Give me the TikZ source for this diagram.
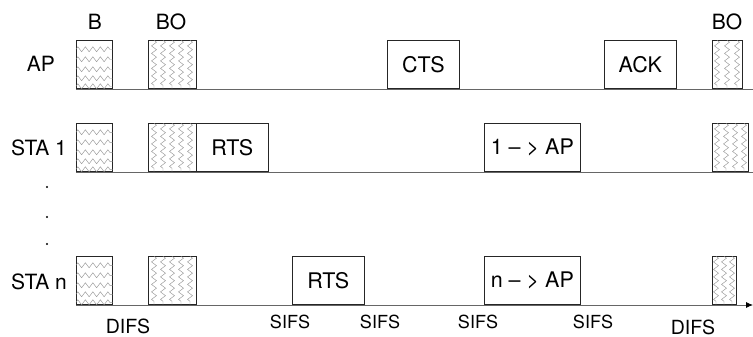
\documentclass[tikz,border=0pt]{standalone}
\usepackage{fontspec}
\setmainfont{TeX Gyre Heros}
\usetikzlibrary{arrows.meta,decorations.pathmorphing}

\tikzset{
	frame/.style={draw=black!85, line width=0.7pt, inner sep=0pt, minimum height=48pt, anchor=south west},
	msg/.style={frame, fill=white, minimum width=72pt, font=\fontsize{21.5}{24}\selectfont},
	hatch/.style={frame},
	zz/.style={draw=black!45, line width=0.4pt, decorate, decoration={zigzag, segment length=7.5pt, amplitude=2.5pt}},
	tl/.style={draw=black!60, line width=0.8pt},
	lbl/.style={font=\fontsize{21}{24}\selectfont},
	gap/.style={font=\fontsize{18}{20}\selectfont}
}
% horizontal zigzag rows (B)
\newcommand\brows[1]{%
	\foreach \o in {9,19,29,38,46}
		\draw[zz] ([yshift=-\o pt]#1.north west) -- ([yshift=-\o pt]#1.north east);}
% vertical zigzag columns (BO)
\newcommand\bocols[2]{%
	\foreach \o in {#2}
		\draw[zz] ([xshift=\o pt]#1.north west) -- ([xshift=\o pt]#1.south west);}

\begin{document}
\begin{tikzpicture}[x=1pt, y=-1pt]
	\useasboundingbox (0,0) rectangle (753,337);
	%\draw [help lines, step=50] (0,0) grid (753,337);

	% time lines
	\coordinate (apL) at (76,89);  \coordinate (apR) at (753,89);
	\coordinate (s1L) at (76,172); \coordinate (s1R) at (753,172);
	\coordinate (snL) at (76,305); \coordinate (snR) at (753,305);
	\draw [tl] (apL) -- (apR);
	\draw [tl] (s1L) -- (s1R);
	\draw [tl, -{Latex[length=7pt, width=6pt, fill=black, color=black]}] (snL) -- (snR);

	% station names
	\node [lbl] (ap) at (41,64) {AP};
	\node [lbl] (sta1) at (39,148) {STA 1};
	\node [lbl] (stan) at (39,282) {STA n};
	\node [lbl] (b) at (95,22) {B};
	\node [lbl] (bo) at (171,22) {BO};
	\node [lbl] (boend) at (727,22) {BO};
	\fill (47,187) circle (1.1pt);
	\fill (47,217) circle (1.1pt);
	\fill (47,244) circle (1.1pt);

	% AP
	\node [hatch, minimum width=36pt] (apb) at (76,89) {};
	\node [hatch, minimum width=48pt] (apbo) at (148,89) {};
	\node [hatch, minimum width=30pt] (apbo2) at (712,89) {};
	\node [msg] (cts) at (387,89) {CTS};
	\node [msg] (ack) at (604,89) {ACK};
	\brows{apb}
	\bocols{apbo}{6,15,24,33,42}
	\bocols{apbo2}{5,15,25}

	% STA 1
	\node [hatch, minimum width=36pt] (s1b) at (76,172) {};
	\node [hatch, minimum width=48pt] (s1bo) at (148,172) {};
	\node [hatch, minimum width=36pt] (s1bo2) at (712,172) {};
	\node [msg] (rts1) at (196,172) {RTS};
	\node [msg, minimum width=96pt] (data1) at (484,172) {1 – > AP};
	\brows{s1b}
	\bocols{s1bo}{6,15,24,33,42}
	\bocols{s1bo2}{5,14,23,32}

	% STA n
	\node [hatch, minimum width=36pt] (snb) at (76,305) {};
	\node [hatch, minimum width=48pt] (snbo) at (148,305) {};
	\node [hatch, minimum width=24pt] (snbo2) at (712,305) {};
	\node [msg] (rtsn) at (292,305) {RTS};
	\node [msg, minimum width=96pt] (datan) at (484,305) {n – > AP};
	\brows{snb}
	\bocols{snbo}{6,15,24,33,42}
	\bocols{snbo2}{4,12,20}

	% interframe spaces
	\node [lbl, font=\fontsize{19.5}{22}\selectfont] (difs1) at (128,326) {DIFS};
	\node [gap] (sifs1) at (290,322) {SIFS};
	\node [gap] (sifs2) at (380,322) {SIFS};
	\node [gap] (sifs3) at (478,322) {SIFS};
	\node [gap] (sifs4) at (593,322) {SIFS};
	\node [lbl, font=\fontsize{19.5}{22}\selectfont] (difs2) at (693,327) {DIFS};
\end{tikzpicture}
\end{document}
